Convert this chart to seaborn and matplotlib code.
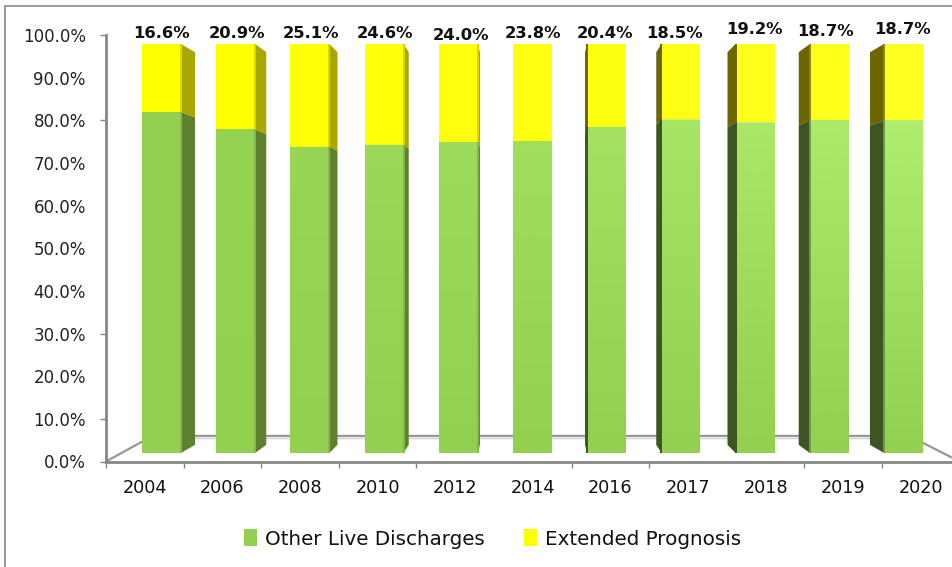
import numpy as np
import pandas as pd
import seaborn as sns
import matplotlib.pyplot as plt
from matplotlib.colors import to_rgb
from matplotlib.patches import Rectangle

years = ['2004', '2006', '2008', '2010', '2012', '2014', '2016', '2017', '2018', '2019', '2020']
extended = [16.6, 20.9, 25.1, 24.6, 24.0, 23.8, 20.4, 18.5, 19.2, 18.7, 18.7]
other = [100 - v for v in extended]
y_ticks = list(range(0, 101, 10))

W, H = 953, 567
GREEN = '#92D050'
LIGHT_GREEN = '#AFEF6D'
YELLOW = '#FFFF00'
GREY = '#868686'

sns.set_style('white')
plt.rcParams['font.family'] = ['DejaVu Sans']


def px_axes(fig, left, top, right, bottom):
    # 用像素位置建 axes
    return fig.add_axes([left / W, 1 - bottom / H, (right - left) / W, (bottom - top) / H])


def project(x, y):
    # back face of the fake 3d box, scaled around the middle bar
    return 5 + (x - 5) * 0.96, 50 + (y - 50) * 0.96


def side_face(ax, x, y0, y1, color, strip):
    bx0, by0 = project(x, y0)
    bx1, by1 = project(x, y1)
    ax.fill([x, x, bx1, bx0], [y0, y1, by1, by0], color=color, lw=0, zorder=1, clip_on=False)
    ax.plot([x, x], [y0, y1], color=strip, lw=1.4, zorder=5, solid_capstyle='butt')


fig = plt.figure(figsize=(W / 100, H / 100), dpi=100)
fig.add_artist(Rectangle((5 / W, -0.1), 1.1, 1.1 - 6 / H, transform=fig.transFigure,
                         fill=False, ec=GREY, lw=1.2))

# axis box
ax = px_axes(fig, 106, 35, 959.6, 461.5)
ax.set_xlim(0, 11)
ax.set_ylim(0, 100)
ax.set_yticks(y_ticks)
ax.set_yticklabels([f'{t:.1f}%' for t in y_ticks], fontsize=12, color='#222222')
ax.set_xticks(range(12))
ax.set_xticklabels([])
ax.set_xticks(np.arange(11) + 0.5, labels=years, minor=True, fontsize=12.7, color='#111111')
ax.tick_params(axis='y', which='major', left=True, length=4.5, width=1, color=GREY, pad=10)
ax.tick_params(axis='x', which='major', bottom=True, length=4.5, width=1, color=GREY)
ax.tick_params(axis='x', which='minor', bottom=False, pad=10.5)
for t, tick in zip(y_ticks, ax.yaxis.get_major_ticks()):
    if t not in (0, 10, 30, 80, 100):
        tick.tick1line.set_visible(False)
for i, tick in enumerate(ax.xaxis.get_major_ticks()):
    if i in (5, 8):
        tick.tick1line.set_visible(False)
sns.despine(ax=ax)
for s in ('left', 'bottom'):
    ax.spines[s].set_color(GREY)
    ax.spines[s].set_linewidth(2)

# floor
ax.plot([0, 0.6, 10.35, 11], [0, 6, 6, 0], color='#979797', lw=1.6, zorder=1, clip_on=False)
ax.plot([0.6, 10.35], [5.6, 5.6], color='#D0D0D0', lw=1, zorder=1)

# bars
df = pd.DataFrame({'year': years, 'other': other, 'total': [100] * len(years)})
bx = px_axes(fig, 124.4, 44, 940.6, 453)
bx.patch.set_alpha(0)
sns.barplot(data=df, x='year', y='total', color=YELLOW, saturation=1, width=0.525,
            label='Extended Prognosis', ax=bx, zorder=2, linewidth=0)
sns.barplot(data=df, x='year', y='other', color=GREEN, saturation=1, width=0.525,
            label='Other Live Discharges', ax=bx, zorder=3, linewidth=0)
h, l = bx.get_legend_handles_labels()
if bx.get_legend():
    bx.get_legend().remove()

for i, v in enumerate(other):
    left, right = i - 0.2625, i + 0.2625
    if right < 5:
        side_face(bx, right, 0, v, '#5E8130', '#84B848')
        side_face(bx, right, v, 100, '#A8A800', '#D8D800')
    if left > 5:
        side_face(bx, left, 0, v, '#3D5423', '#6E9A48' if i > 8 else '#3D5423')
        side_face(bx, left, v, 100, '#6B6600', '#8A8620' if i > 8 else '#6B6600')
    # lighter towards the top on the right hand bars
    shade = np.ones((64, 1, 4))
    shade[:, :, :3] = to_rgb(LIGHT_GREEN)
    shade[:, 0, 3] = np.linspace(1, 0, 64) * i / 10
    bx.imshow(shade, extent=(left, right, 0, v), aspect='auto', zorder=4, interpolation='bilinear')
    shade = np.ones((1, 1, 4))
    shade[0, 0, 3] = 0.13 * i / 10
    bx.imshow(shade, extent=(left, right, v, 100), aspect='auto', zorder=4)
bx.set_xlim(-0.5, 10.5)
bx.set_ylim(0, 100)
bx.set_xlabel('')
bx.set_ylabel('')
bx.axis('off')

# labels are not quite centred in the original
label_dx = [0, 1, 1, 1, 3, 1, -2, -6, -1, -4, -1]
label_dy = [11, 11, 11, 11, 9, 11, 11, 10, 15, 13, 15]
for i, v in enumerate(extended):
    bx.annotate(f'{v:.1f}%', (i, 100), xytext=(label_dx[i] * 0.72, label_dy[i] * 0.72),
                textcoords='offset points', ha='center', va='center', fontsize=11.8,
                fontweight='bold', color='#111111', annotation_clip=False, zorder=6)

fig.legend(h[::-1], l[::-1], loc='center', bbox_to_anchor=(492.5 / W, 1 - 539 / H), ncol=2, frameon=False,
           fontsize=14.3, handlelength=0.65, handleheight=0.9, handletextpad=0.42,
           columnspacing=1.95, labelcolor='#111111')

plt.savefig('out.png', dpi=100)
plt.close()
